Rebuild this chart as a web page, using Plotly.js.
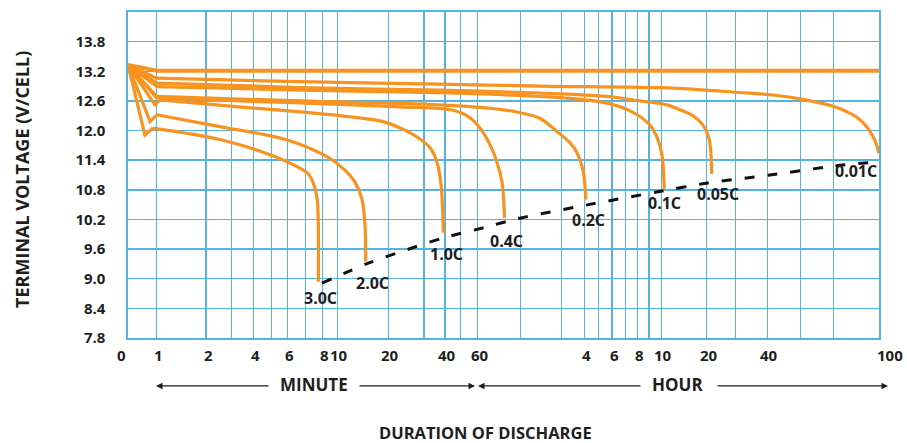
<!DOCTYPE html>
<html>
<head>
<meta charset="utf-8">
<script src="https://cdn.plot.ly/plotly-3.0.1.min.js"></script>
<style>html,body{margin:0;padding:0;background:#fff;}#chart{width:907px;height:443px;}</style>
</head>
<body>
<div id="chart"></div>
<script>
// ---- axis scale (duration in minutes -> axis units) ----
const SCALE_T = [0,1,2,3,4,5,6,7,8,10,20,30,40,50,60,120,180,240,300,360,420,480,540,600,1200,1800,2400,3000,3600,6000];
const SCALE_U = [0,28.7,78,103.7,125.3,143.7,159.7,177.7,194.3,209.3,260.3,296,317,332.7,349.7,392.7,433.7,456.7,470.3,484,497.3,509.7,521,533.3,578.7,607.7,639.3,672.7,705.3,751];

// ---- tick labels ----
const X_TICK_T = [0,1,2,4,6,8,10,20,40,60,240,360,480,600,1200,2400,6000];
const X_TICK_TEXT = ['0','1','2','4','6','8','10','20','40','60','4','6','8','10','20','40','100'];
const Y_TICKS = [7.8,8.4,9.0,9.6,10.2,10.8,11.4,12.0,12.6,13.2,13.8,14.4];
const Y_TICK_TEXT = ['7.8','8.4','9.0','9.6','10.2','10.8','11.4','12.0','12.6','13.2','13.8',''];

// ---- series (time in minutes, voltage) ----
const FLAT_T = [0, 1, 6000];
const FLAT_V = [13.33, 13.21, 13.21];

const C001_T = [0, 1, 6.7, 37, 145, 717, 1870, 2490, 2990, 3600, 4190, 4690, 5240, 5720, 6000];
const C001_V = [13.33, 13.06, 12.99, 12.94, 12.90, 12.86, 12.77, 12.72, 12.64, 12.49, 12.38, 12.27, 12.07, 11.81, 11.54];

const C005_T = [0, 1, 6.7, 37, 145, 337, 492, 655, 798, 974, 1134, 1222, 1265, 1287];
const C005_V = [13.33, 12.96, 12.87, 12.82, 12.76, 12.69, 12.60, 12.52, 12.42, 12.30, 12.11, 11.91, 11.65, 11.12];

const C01_T = [0, 1, 6.7, 43, 145, 262, 351, 420, 477, 545, 578, 606, 628];
const C01_V = [13.33, 12.89, 12.82, 12.76, 12.69, 12.61, 12.54, 12.44, 12.32, 12.11, 11.87, 11.51, 10.82];

const C02_T = [0, 1, 6.7, 37, 86, 119, 145, 172, 200, 218, 235, 245];
const C02_V = [13.33, 12.69, 12.60, 12.52, 12.43, 12.36, 12.25, 11.98, 11.75, 11.55, 11.20, 10.60];

const C04_T = [0, 1, 6.7, 22.9, 44.8, 55.2, 62.3, 73.2, 81.9, 88.8, 92.4];
const C04_V = [13.33, 12.66, 12.56, 12.48, 12.41, 12.26, 12.05, 11.71, 11.36, 10.96, 10.23];

const C1_T = [0, 0.94, 1.05, 3.83, 6.7, 11.9, 18.6, 22.9, 27.7, 32.6, 35.9, 37.9, 39.1];
const C1_V = [13.33, 12.52, 12.62, 12.46, 12.38, 12.28, 12.18, 12.05, 11.87, 11.65, 11.35, 10.90, 9.93];

const C2_T = [0, 0.77, 1, 2.49, 5.97, 8.58, 11.1, 12.7, 14.0, 14.57, 14.71];
const C2_V = [13.33, 12.18, 12.32, 12.08, 11.81, 11.47, 11.20, 10.96, 10.60, 10.09, 9.35];

const C3_T = [0, 0.59, 0.87, 2.49, 4.9, 6.5, 7.13, 7.48, 7.68, 7.75];
const C3_V = [13.33, 11.91, 12.05, 11.82, 11.51, 11.27, 11.13, 10.90, 10.60, 8.94];

const CUT_T = [7.98, 15.4, 38.4, 69.7, 115, 245, 583, 1222, 2444, 3600, 6000];
const CUT_V = [8.91, 9.32, 9.82, 10.05, 10.22, 10.49, 10.76, 10.94, 11.10, 11.28, 11.37];

const RATE_LABELS = ['3.0C','2.0C','1.0C','0.4C','0.2C','0.1C','0.05C','0.01C'];

// ---- styles ----
const ORANGE = '#F7931E';
const GRID = '#55B3E3';
const INK = '#1E1E1E';
const FONT = 'Open Sans, Noto Sans, sans-serif';
const LABEL_SHIFT = [[2,-16.5],[7,-22],[3,-21],[2,-23],[3,-20],[0,-14],[6,-20],[-23,-18]];

function toU(t) {
  if (t <= SCALE_T[1]) return SCALE_U[0] + (SCALE_U[1] - SCALE_U[0]) * t / SCALE_T[1];
  for (let i = 1; i < SCALE_T.length - 1; i++) {
    if (t <= SCALE_T[i + 1]) {
      const f = Math.log(t / SCALE_T[i]) / Math.log(SCALE_T[i + 1] / SCALE_T[i]);
      return SCALE_U[i] + f * (SCALE_U[i + 1] - SCALE_U[i]);
    }
  }
  return SCALE_U[SCALE_U.length - 1];
}

const U_MAX = SCALE_U[SCALE_U.length - 1];
const curves = [[C3_T,C3_V],[C2_T,C2_V],[C1_T,C1_V],[C04_T,C04_V],[C02_T,C02_V],[C01_T,C01_V],[C005_T,C005_V],[C001_T,C001_V]];

const traces = [];
curves.forEach(([T, V]) => {
  // initial drop (first minute) drawn straight, the rest smoothed
  let k = 0;
  while (k + 1 < T.length && T[k + 1] <= 1.05) k++;
  traces.push({x: T.slice(0, k + 1).map(toU), y: V.slice(0, k + 1), mode: 'lines', hoverinfo: 'skip',
    line: {color: ORANGE, width: 3.2, shape: 'linear'}});
  traces.push({x: T.slice(k).map(toU), y: V.slice(k), mode: 'lines', hoverinfo: 'skip',
    line: {color: ORANGE, width: 3.2, shape: 'spline', smoothing: 0.9}});
});
traces.push({x: FLAT_T.map(toU), y: FLAT_V, mode: 'lines', hoverinfo: 'skip',
  line: {color: ORANGE, width: 4, shape: 'linear'}});
traces.push({x: CUT_T.map(toU), y: CUT_V, mode: 'lines', hoverinfo: 'skip',
  line: {color: '#111', width: 3, dash: '10px,13px', shape: 'spline', smoothing: 0.6}});

const annotations = [];
curves.forEach(([T, V], i) => {
  annotations.push({x: toU(T[T.length - 1]), y: V[V.length - 1], xref: 'x', yref: 'y',
    text: RATE_LABELS[i], showarrow: false, xanchor: 'center', yanchor: 'middle',
    xshift: LABEL_SHIFT[i][0], yshift: LABEL_SHIFT[i][1],
    font: {family: FONT, size: 16, color: INK, weight: 700}});
});
X_TICK_T.forEach((t, i) => {
  const last = i === X_TICK_T.length - 1, first = i === 0;
  annotations.push({x: toU(t) / U_MAX, y: -0.052, xref: 'paper', yref: 'paper',
    text: X_TICK_TEXT[i], showarrow: false,
    xanchor: first ? 'right' : (last ? 'left' : 'center'), yanchor: 'middle',
    xshift: first ? 0 : (last ? -4 : 2),
    font: {family: FONT, size: 15, color: INK, weight: 700}});
});
function px2paper(px) { return (px - 128) / U_MAX; }
const ARROW_Y = -0.147;
[[156, 114], [475, -117], [478, 164], [888, -172]].forEach(([head, dx]) => {
  annotations.push({x: px2paper(head), y: ARROW_Y, xref: 'paper', yref: 'paper', text: '',
    showarrow: true, arrowhead: 2, arrowsize: 1, arrowwidth: 1.3, arrowcolor: INK,
    ax: dx, ay: 0, standoff: 0, startstandoff: 0});
});
const TXT = (x, y, text, size, extra) => Object.assign({x: x, y: y, xref: 'paper', yref: 'paper', text: text,
  showarrow: false, xanchor: 'center', yanchor: 'middle',
  font: {family: FONT, size: size, color: INK, weight: 700}}, extra || {});
annotations.push(TXT(px2paper(314), -0.144, 'MINUTE', 17));
annotations.push(TXT(px2paper(677), -0.144, 'HOUR', 17));
annotations.push(TXT(px2paper(485), (338 - 432) / 326, 'DURATION OF DISCHARGE', 16.5));
annotations.push(TXT(px2paper(22), 0.485, 'TERMINAL VOLTAGE (V/CELL)', 18, {textangle: -90}));

const layout = {
  width: 907, height: 443,
  margin: {l: 128, r: 28, t: 12, b: 105},
  paper_bgcolor: '#fff', plot_bgcolor: '#fff',
  showlegend: false,
  xaxis: {range: [0, U_MAX], tickmode: 'array', tickvals: SCALE_T.map(toU), showticklabels: false,
    showgrid: true, gridcolor: GRID, gridwidth: 1.5, zeroline: false,
    showline: true, mirror: true, linecolor: GRID, linewidth: 1.6, ticks: '', fixedrange: true},
  yaxis: {range: [7.8, 14.4], tickmode: 'array', tickvals: Y_TICKS, ticktext: Y_TICK_TEXT,
    showgrid: true, gridcolor: GRID, gridwidth: 1.5, zeroline: false,
    showline: true, mirror: true, linecolor: GRID, linewidth: 1.6, ticks: '',
    ticklabelstandoff: 18, tickfont: {family: FONT, size: 15, color: INK, weight: 700}, fixedrange: true},
  annotations: annotations
};

Plotly.newPlot('chart', traces, layout, {staticPlot: true, displayModeBar: false});
</script>
</body>
</html>
